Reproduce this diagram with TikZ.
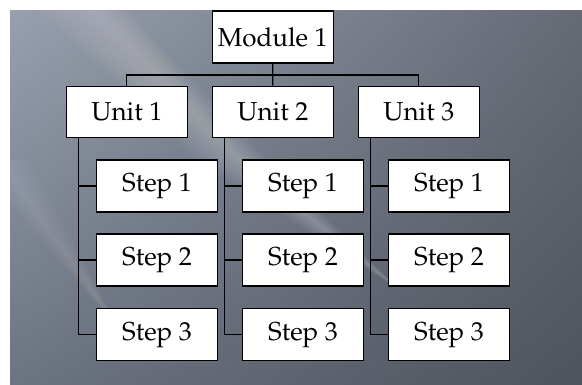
\documentclass[tikz,border=0pt]{standalone}
\usepackage[T1]{fontenc}
\usepackage{mathpazo}
\usetikzlibrary{calc,shadings}
\definecolor{bgUL}{HTML}{98A0AF}
\definecolor{bgUR}{HTML}{656A75}
\definecolor{bgLL}{HTML}{6C7381}
\definecolor{bgLR}{HTML}{4E535C}
\begin{document}
\begin{tikzpicture}[x=1pt,y=-1pt,
  box/.style={draw=black, fill=white, line width=1.1pt, minimum width=121pt,
    minimum height=52pt, inner sep=0pt,
    font=\fontfamily{ppl}\fontsize{26}{30}\selectfont},
  link/.style={draw=black, line width=1.2pt}]
\useasboundingbox (0,0) rectangle (582,385);
\fill[white] (0,0) rectangle (582,385);
\shade[upper left=bgUL, upper right=bgUR, lower left=bgLL, lower right=bgLR]
  (10,11) rectangle (582,385);
\begin{scope}
  \clip (10,11) rectangle (582,385);
  \foreach \w in {4,8,...,56}
    \fill[white, fill opacity=0.02]
      ({85-\w},0) -- ({85+0.6*\w},0) -- ({240+0.5*\w},160) -- ({400},290) -- ({240-0.8*\w},160) -- cycle;
  \foreach \w in {3,6,...,30}
    \fill[white, fill opacity=0.016]
      ({0-\w},160) -- ({0+\w},160) -- ({120},330) -- cycle;
\end{scope}

% nodes
\node[box] (m) at (272.7,37) {Module 1};
\node[box, minimum height=51pt] (u1) at (126.8,111.7) {Unit 1};
\node[box, minimum height=51pt] (u2) at (272.8,111.7) {Unit 2};
\node[box, minimum height=51pt] (u3) at (418.8,111.7) {Unit 3};

\node[box] (s11) at (157,186) {Step 1};
\node[box] (s12) at (157,260) {Step 2};
\node[box] (s13) at (157,334.7) {Step 3};
\node[box] (s21) at (303,186) {Step 1};
\node[box] (s22) at (303,260) {Step 2};
\node[box] (s23) at (303,334.7) {Step 3};
\node[box] (s31) at (449,186) {Step 1};
\node[box] (s32) at (449,260) {Step 2};
\node[box] (s33) at (449,334.7) {Step 3};

% connectors
\coordinate (bus) at (272.8,75);
\draw[link] (m.south) -- (u2.north);
\draw[link] (u1.north) |- (bus) -| (u3.north);

\coordinate (t1) at ($(u1.south west)+(12.5,0)$);
\coordinate (t2) at ($(u2.south west)+(12.5,0)$);
\coordinate (t3) at ($(u3.south west)+(12.5,0)$);
\foreach \c in {1,2,3}{
  \draw[link] (t\c) |- (s\c3.west);
  \draw[link] (t\c) |- (s\c1.west);
  \draw[link] (t\c) |- (s\c2.west);
}
\end{tikzpicture}
\end{document}
